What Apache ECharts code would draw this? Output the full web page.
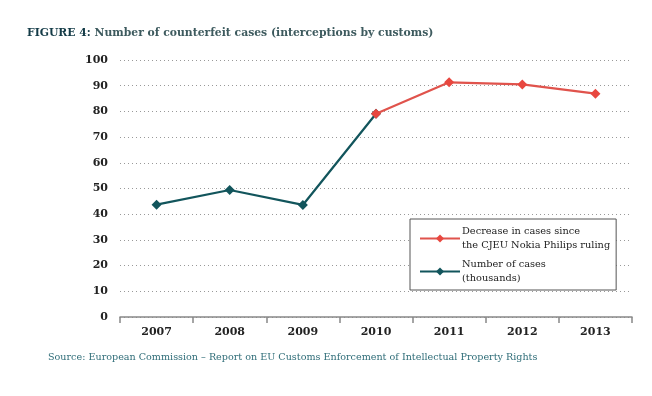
<!DOCTYPE html>
<html>
<head>
<meta charset="utf-8">
<script src="https://cdn.jsdelivr.net/npm/echarts@6/dist/echarts.min.js"></script>
<style>
  html, body { margin: 0; padding: 0; background: #fff; }
  #chart { width: 652px; height: 396px; }
</style>
</head>
<body>
<div id="chart"></div>
<script>
// years on the x axis
var years = ['2007', '2008', '2009', '2010', '2011', '2012', '2013'];
// number of cases, thousands (before ruling)
var casesBefore = [43.7, 49.4, 43.6, 79.1, null, null, null];
// decrease since the CJEU Nokia Philips ruling
var casesAfter = [null, null, null, 79.1, 91.3, 90.5, 86.9];
var yTicks = [0, 10, 20, 30, 40, 50, 60, 70, 80, 90, 100];

var serif = '"DejaVu Serif", "Liberation Serif", serif';
var nameAfter = 'Decrease in cases since\nthe CJEU Nokia Philips ruling';
var nameBefore = 'Number of cases\n(thousands)';

var chart = echarts.init(document.getElementById('chart'));
chart.setOption({
  animation: false,
  backgroundColor: '#fff',
  title: {
    text: '{a|FIGURE 4:} Number of counterfeit cases (interceptions by customs)',
    left: 22, top: 23,
    textStyle: {
      fontFamily: serif, fontSize: 10.8, fontWeight: 'bold', color: '#3d5a5e',
      rich: { a: { fontFamily: serif, fontSize: 10.8, fontWeight: 'bold', color: '#143b47' } }
    }
  },
  grid: { left: 120, right: 20, top: 60, bottom: 79, containLabel: false },
  legend: {
    orient: 'vertical',
    left: 410, top: 219,
    padding: [5, 6, 4, 9],
    itemGap: 4,
    itemWidth: 40,
    itemHeight: 10,
    borderColor: '#555',
    borderWidth: 1,
    borderRadius: 0,
    backgroundColor: '#fff',
    data: [nameAfter, nameBefore],
    textStyle: { fontFamily: serif, fontSize: 9.8, color: '#222', lineHeight: 14.5, padding: [0, 0, 0, -3] }
  },
  xAxis: {
    type: 'category',
    data: years,
    boundaryGap: true,
    axisLine: { lineStyle: { color: '#888', width: 1.5 } },
    axisTick: { show: true, length: 6, lineStyle: { color: '#888', width: 1.5 } },
    axisLabel: { fontFamily: serif, fontSize: 11, color: '#222', fontWeight: 'bold', margin: 10 }
  },
  yAxis: {
    type: 'value',
    min: yTicks[0], max: yTicks[yTicks.length - 1], interval: 10,
    axisLine: { show: false },
    axisTick: { show: false },
    axisLabel: { fontFamily: serif, fontSize: 11, color: '#222', fontWeight: 'bold', margin: 12 },
    splitLine: { lineStyle: { color: '#999', type: [1, 3], width: 1 } }
  },
  series: [{
    name: nameBefore,
    type: 'line',
    data: casesBefore,
    symbol: 'diamond', symbolSize: 10,
    color: '#12555c',
    lineStyle: { width: 2.2, color: '#12555c' },
    itemStyle: { color: '#12555c' },
    z: 2
  }, {
    name: nameAfter,
    type: 'line',
    data: casesAfter,
    symbol: 'diamond', symbolSize: 10,
    color: '#e0534c',
    lineStyle: { width: 2.2, color: '#e0534c' },
    itemStyle: { color: '#e8473f' },
    z: 3
  }],
  graphic: [{
    type: 'text',
    left: 48, top: 352,
    style: {
      text: 'Source: European Commission \u2013 Report on EU Customs Enforcement of Intellectual Property Rights',
      fontFamily: serif, fontSize: 9.6, fill: '#2f6d78'
    }
  }]
});
</script>
</body>
</html>
